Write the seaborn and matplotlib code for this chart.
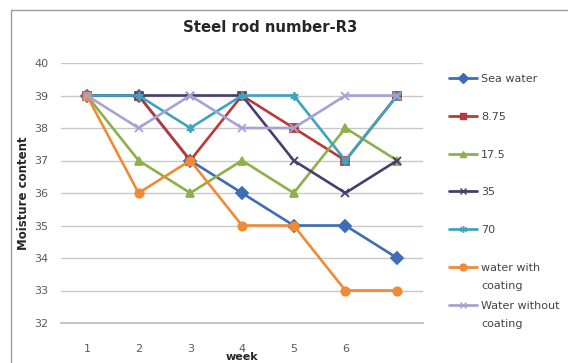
import matplotlib
matplotlib.use("Agg")
import matplotlib.pyplot as plt
import seaborn as sns
import pandas as pd
from matplotlib.patches import Rectangle
from matplotlib.lines import Line2D

weeks = [1, 2, 3, 4, 5, 6, 7]
week_labels = ["1", "2", "3", "4", "5", "6", ""]

series_names = ["Sea water", "8.75", "17.5", "35", "70",
                "water with coating", "Water without coating"]

sea_water = [39, 39, 37, 36, 35, 35, 34]
s_8_75 = [39, 39, 37, 39, 38, 37, 39]
s_17_5 = [39, 37, 36, 37, 36, 38, 37]
s_35 = [39, 39, 39, 39, 37, 36, 37]
s_70 = [39, 39, 38, 39, 39, 37, 39]
water_with_coating = [39, 36, 37, 35, 35, 33, 33]
water_without_coating = [39, 38, 39, 38, 38, 39, 39]

values = [sea_water, s_8_75, s_17_5, s_35, s_70,
          water_with_coating, water_without_coating]

colors = ["#3E6DB5", "#B8393A", "#8DB04A", "#4A3C6E", "#3FA3BE",
          "#F08A35", "#A3A3D6"]
markers = ["D", "s", "^", "x", (6, 2, 0), "o", "x"]

sns.set_theme(style="white")
plt.rcParams["font.family"] = ["DejaVu Sans"]

W, H = 568, 363
fig = plt.figure(figsize=(W / 100, H / 100), dpi=100)
fig.patch.set_facecolor("white")
# outer chart frame
fig.add_artist(Rectangle((11 / W, -0.05), 1.0, 1 - 10 / H + 0.05,
                         transform=fig.transFigure, fill=False,
                         edgecolor="#9A9A9A", linewidth=1.0))

ax = fig.add_axes([61 / W, 1 - 323 / H, 362 / W, 260 / H])

for name, vals, c, m in zip(series_names, values, colors, markers):
    d = pd.DataFrame({"week": weeks, "value": vals})
    sns.lineplot(data=d, x="week", y="value", color=c, marker=m,
                 linewidth=1.9, markersize=6, markeredgewidth=1.3,
                 markeredgecolor=c, ax=ax, label=None)

ax.set_xlim(0.5, 7.5)
ax.set_ylim(32, 40)
ax.set_yticks(range(32, 41))
ax.set_xticks(weeks)
ax.set_xticklabels(week_labels)
ax.yaxis.grid(True, color="#C8C8C8", linewidth=1.0)
ax.set_axisbelow(True)
for side in ["top", "right", "left"]:
    ax.spines[side].set_visible(False)
ax.spines["bottom"].set_color("#BDBDBD")
ax.tick_params(axis="y", length=0, labelsize=8, colors="#5A5A5A", pad=9)
ax.tick_params(axis="x", length=0, labelsize=8, colors="#5A5A5A", pad=15)

ax.set_xlabel("week", fontsize=8, fontweight="bold", labelpad=-1)
ax.set_ylabel("Moisture content", fontsize=8.5, fontweight="bold",
              labelpad=3)
fig.text(270 / W, 1 - 28 / H, "Steel rod number-R3", ha="center",
         va="center", fontsize=10.7, fontweight="bold")

# legend: one row per series, second line of the long names set beneath
first_lines = ["Sea water", "8.75", "17.5", "35", "70",
               "water with", "Water without"]
second_lines = {5: "coating", 6: "coating"}
handles = [Line2D([], [], color=c, marker=m, markersize=5, linewidth=2.0,
                  markeredgecolor=c)
           for c, m in zip(colors, markers)]
leg = fig.legend(handles, first_lines, loc="upper left",
                 bbox_to_anchor=(438.5 / W, 1 - 64 / H), frameon=False,
                 fontsize=8, labelspacing=2.5, handlelength=2.6,
                 handletextpad=0.35, labelcolor="#444444", borderpad=0.4)

fig.canvas.draw()
texts = leg.get_texts()
for i, extra in second_lines.items():
    bb = texts[i].get_window_extent()
    fig.text(bb.x0 / W, (bb.y0 - 18) / H, extra, ha="left", va="bottom",
             fontsize=8, color="#444444")

fig.savefig("out.png", dpi=100)
